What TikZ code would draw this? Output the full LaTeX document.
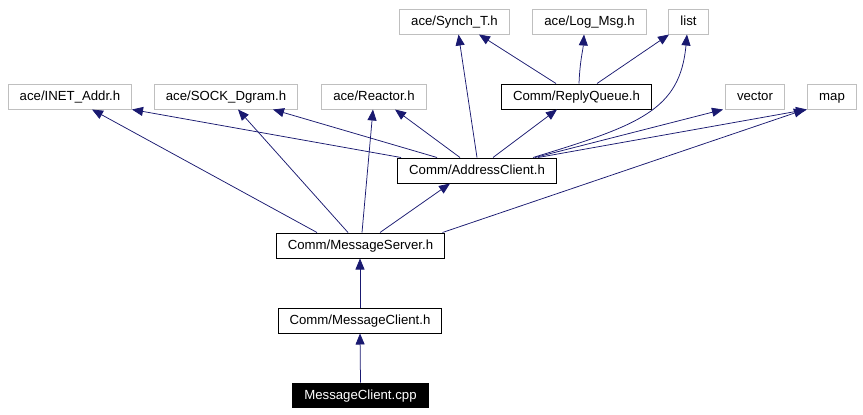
\documentclass[tikz,border=0pt]{standalone}
\usepackage{fontspec}
\setmainfont{Liberation Sans}
\usepackage{tikz}
\usetikzlibrary{arrows.meta}

\definecolor{edgeblue}{HTML}{191970}
\definecolor{extgray}{HTML}{BFBFBF}

\begin{document}
\begin{tikzpicture}[x=1pt,y=-1pt,
    filebox/.style={draw=black, line width=1pt, inner xsep=11.5pt, inner ysep=0pt,
        text height=10pt, text depth=1.5pt,
        minimum height=25pt, font=\fontsize{13.2pt}{15pt}\selectfont},
    extbox/.style={filebox, draw=extgray},
    rootbox/.style={filebox, fill=black, text=white, minimum height=24pt},
    dep/.style={draw=edgeblue, line width=0.75pt, -{Triangle[length=11pt,width=9pt]}, edgeblue}]
    \useasboundingbox (0,0) rectangle (863,415);

    % top row of headers
    \node[extbox] (synch) at (454.5,21.5) {ace/Synch\_T.h};
    \node[extbox] (logmsg) at (589.5,21.5) {ace/Log\_Msg.h};
    \node[extbox] (list) at (688.5,21.5) {list};
    % second row of headers
    \node[extbox] (inet) at (70,96.5) {ace/INET\_Addr.h};
    \node[extbox] (sock) at (226,96.5) {ace/SOCK\_Dgram.h};
    \node[extbox] (reactor) at (374,96.5) {ace/Reactor.h};
    \node[filebox] (replyq) at (576.5,96.5) {Comm/ReplyQueue.h};
    \node[extbox] (vector) at (755,96.5) {vector};
    \node[extbox] (map) at (832,96.5) {map};
    % project headers and the source file
    \node[filebox] (addrc) at (477,170.5) {Comm/AddressClient.h};
    \node[filebox] (msgsrv) at (360.5,245.5) {Comm/MessageServer.h};
    \node[filebox] (msgcl) at (360,320.5) {Comm/MessageClient.h};
    \node[rootbox] (cpp) at (360.5,395) {MessageClient.cpp};

    % includes of the source file
    \draw[dep] (cpp.north) -- (msgcl.south);
    \draw[dep] (msgcl.north) -- ([xshift=-0.5pt]msgsrv.south);

    % includes of MessageServer.h
    \draw[dep] ([xshift=-43.5pt]msgsrv.north) -- ([xshift=22pt]inet.south);
    \draw[dep] ([xshift=-12.5pt]msgsrv.north) -- ([xshift=12pt]sock.south);
    \draw[dep] ([xshift=1.5pt]msgsrv.north) -- ([xshift=-1pt]reactor.south);
    \draw[dep] ([xshift=19.5pt]msgsrv.north) -- ([xshift=-27pt]addrc.south);
    \draw[dep] ([xshift=82pt]msgsrv.north) -- ([xshift=-27pt]map.south);

    % includes of AddressClient.h
    \draw[dep] ([xshift=-76pt]addrc.north) -- ([xshift=62pt]inet.south);
    \draw[dep] ([xshift=-40pt]addrc.north) -- ([xshift=47pt]sock.south);
    \draw[dep] ([xshift=-17pt]addrc.north) -- ([xshift=21pt]reactor.south);
    \draw[dep] (addrc.north) -- ([xshift=4pt]synch.south);
    \draw[dep] ([xshift=16pt]addrc.north) -- ([xshift=-19.5pt]replyq.south);
    \draw[dep] ([xshift=56pt]addrc.north) .. controls (640,125) and (680,110) .. ([xshift=-1.5pt]list.south);
    \draw[dep] ([xshift=58pt]addrc.north) -- ([xshift=-32pt]vector.south);
    \draw[dep] ([xshift=61pt]addrc.north) -- ([xshift=-25pt]map.south);

    % includes of ReplyQueue.h
    \draw[dep] ([xshift=-20.5pt]replyq.north) -- ([xshift=24.5pt]synch.south);
    \draw[dep] ([xshift=2.5pt]replyq.north) .. controls (580,60) and (583,50) .. ([xshift=-5.5pt]logmsg.south);
    \draw[dep] ([xshift=20.5pt]replyq.north) -- ([xshift=-19.5pt]list.south);
\end{tikzpicture}
\end{document}
